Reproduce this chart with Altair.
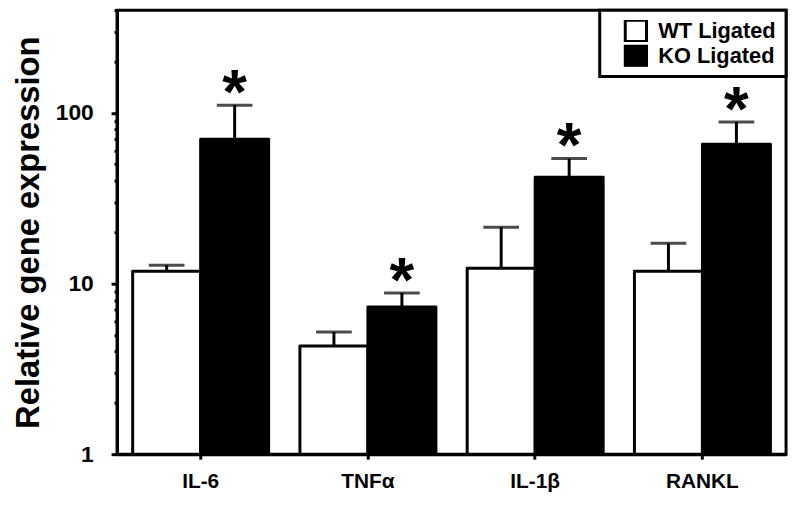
import altair as alt
import pandas as pd

genes = ["IL-6", "TNFα", "IL-1β", "RANKL"]
groups = ["WT Ligated", "KO Ligated"]
wt_mean = [11.8, 4.3, 12.3, 11.8]
wt_upper = [12.8, 5.2, 21.4, 17.2]
ko_mean = [70.0, 7.3, 42.0, 65.5]
ko_upper = [111.0, 8.8, 54.0, 88.5]
ko_sig = [True, True, True, True]
wt_sig = [False, False, False, False]
y_ticks = [1, 2, 3, 4, 5, 6, 7, 8, 9, 10, 20, 30, 40, 50, 60, 70, 80, 90, 100, 200, 300, 400]

rows = []
for i, g in enumerate(genes):
    rows.append({"gene": g, "group": groups[0], "mean": wt_mean[i], "upper": wt_upper[i], "sig": wt_sig[i]})
    rows.append({"gene": g, "group": groups[1], "mean": ko_mean[i], "upper": ko_upper[i], "sig": ko_sig[i]})
df = pd.DataFrame(rows)

FONT = "Liberation Sans"
major = "datum.value == 1 || datum.value == 10 || datum.value == 100"

yscale = alt.Scale(type="log", domain=[1, 400])

base = alt.Chart(df).encode(
    x=alt.X("gene:N", sort=genes, title=None,
            scale=alt.Scale(paddingInner=0, paddingOuter=0),
            axis=alt.Axis(labelAngle=0, labelFontSize=21, labelFont=FONT, labelFontWeight="bold",
                          labelColor="black", labelPadding=12, tickSize=5, tickWidth=3,
                          tickColor="black", domainColor="black", domainWidth=3,
                          bandPosition=0.5)),
    xOffset=alt.XOffset("group:N", sort=groups,
                        scale=alt.Scale(paddingInner=0, paddingOuter=0.23)),
)

bars = base.mark_bar(stroke="black", strokeWidth=3, strokeJoin="round").encode(
    y=alt.Y("mean:Q", scale=yscale, stack=None,
            title="Relative gene expression",
            axis=alt.Axis(values=y_ticks,
                          labelExpr="(" + major + ") ? format(datum.value, 'd') : ''",
                          labelFontSize=23, labelFont=FONT, labelFontWeight="bold",
                          labelColor="black", labelPadding=18,
                          tickSize=alt.condition(major, alt.value(6), alt.value(3)),
                          tickWidth=3, tickColor="black",
                          domainColor="black", domainWidth=3, grid=False,
                          titleFont=FONT, titleFontSize=33, titleFontWeight="bold",
                          titleColor="black", titlePadding=10)),
    y2=alt.datum(1),
    color=alt.Color("group:N", sort=groups,
                    scale=alt.Scale(domain=groups, range=["white", "black"]),
                    legend=alt.Legend(title=None, orient="top-right", offset=0,
                                      symbolType="square", symbolSize=460,
                                      symbolStrokeColor="black", symbolStrokeWidth=3,
                                      labelFont=FONT, labelFontSize=22, labelFontWeight="bold",
                                      labelColor="black", labelOffset=10,
                                      strokeColor="black", fillColor="white",
                                      padding=10, rowPadding=3, symbolOffset=14,
                                      clipHeight=22)),
)

whiskers = base.mark_rule(color="black", strokeWidth=3).encode(
    y=alt.Y("mean:Q", scale=yscale),
    y2="upper:Q",
)

caps = base.mark_tick(color="black", thickness=3, size=36, orient="horizontal").encode(
    y=alt.Y("upper:Q", scale=yscale),
)

stars = base.transform_filter("datum.sig").mark_text(
    text="*", font=FONT, fontSize=64, fontWeight="bold", color="black",
    baseline="alphabetic", align="center", dy=8,
).encode(
    y=alt.Y("upper:Q", scale=yscale),
)

chart = alt.layer(bars, whiskers, caps, stars).properties(
    width=675, height=448,
    autosize=alt.AutoSizeParams(type="none"),
    padding={"left": 110, "top": 0, "right": 6, "bottom": 40},
    background="white",
).configure_view(
    stroke="black", strokeWidth=3,
).configure_legend(
    strokeWidth=3,
)

chart.save("out.html", embed_options={"renderer": "svg", "actions": False})
